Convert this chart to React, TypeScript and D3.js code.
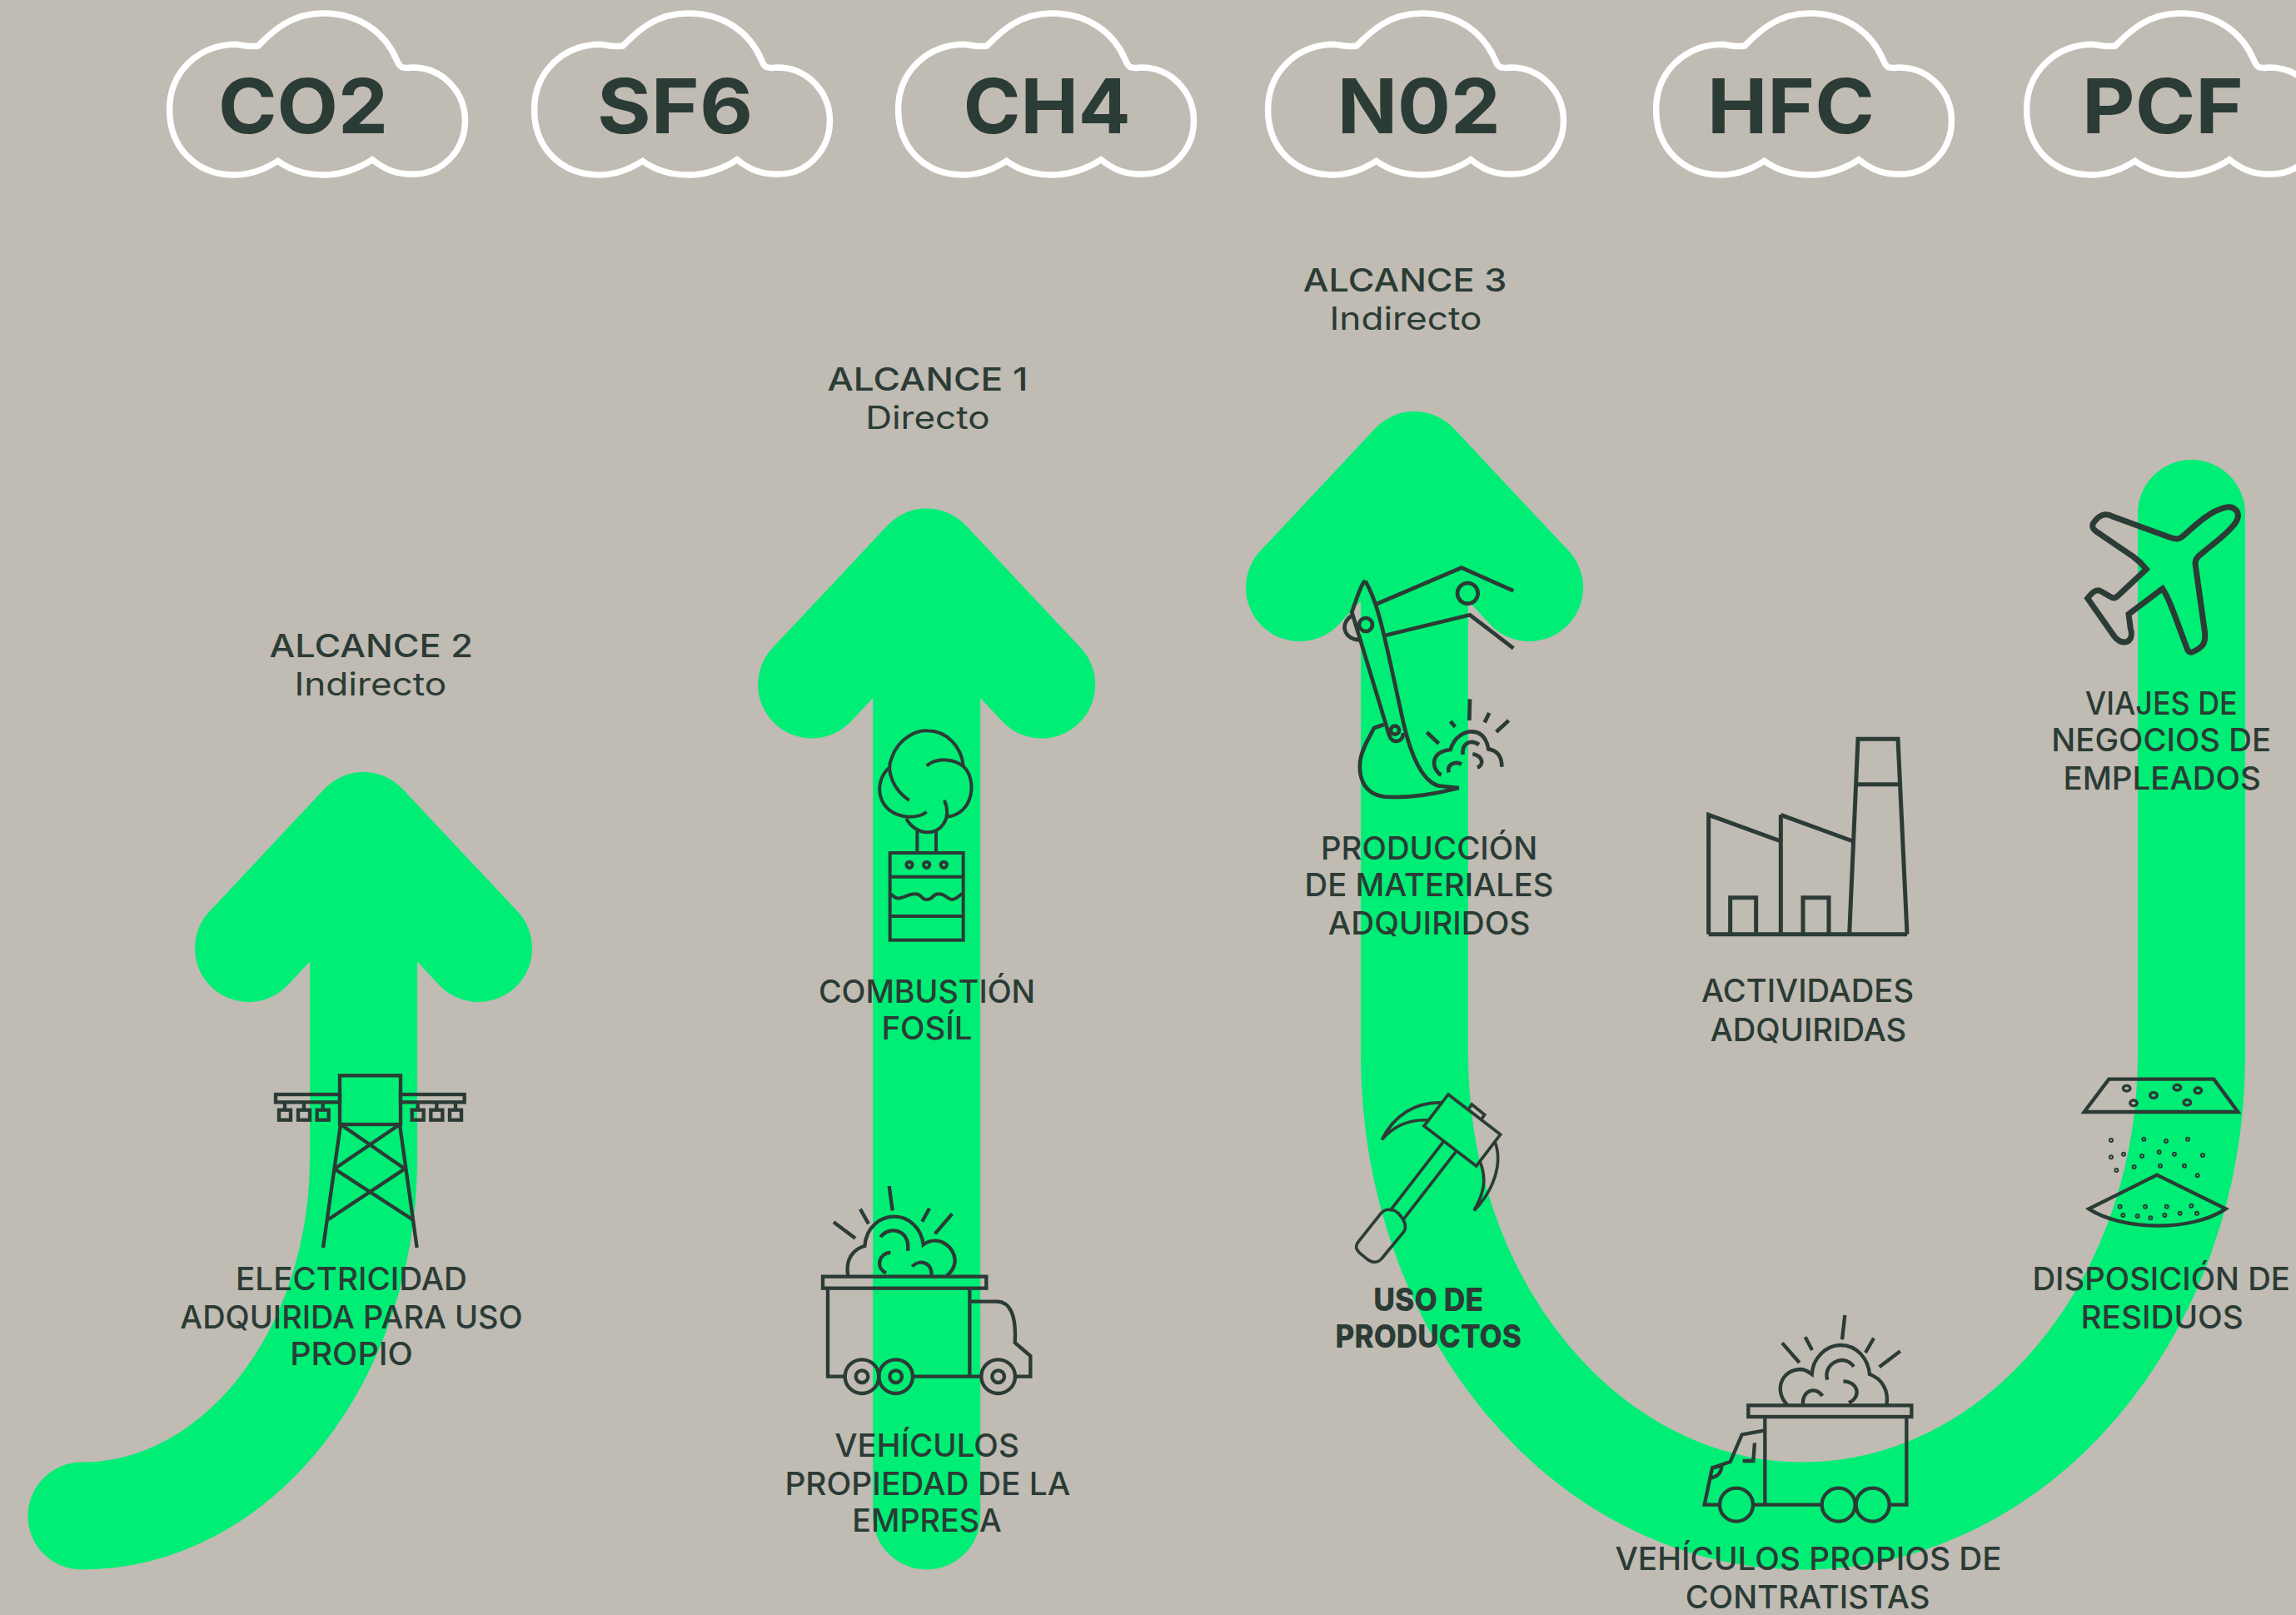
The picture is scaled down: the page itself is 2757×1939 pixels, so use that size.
import * as d3 from 'd3';

const [W, H] = [2757, 1939];
const INK = '#2b3b35';
const GREEN = '#00ee76';
const BG = '#c0bbb3';
const FONT = 'Inter, "Open Sans", sans-serif';

const gases = ['CO2', 'SF6', 'CH4', 'N02', 'HFC', 'PCF'];
const scopeTitles = ['ALCANCE 2', 'ALCANCE 1', 'ALCANCE 3'];
const scopeKinds = ['Indirecto', 'Directo', 'Indirecto'];
const sourceLabels = [
    ['ELECTRICIDAD', 'ADQUIRIDA PARA USO', 'PROPIO'],
    ['COMBUSTIÓN', 'FOSÍL'],
    ['VEHÍCULOS', 'PROPIEDAD DE LA', 'EMPRESA'],
    ['PRODUCCIÓN', 'DE MATERIALES', 'ADQUIRIDOS'],
    ['USO DE', 'PRODUCTOS'],
    ['ACTIVIDADES', 'ADQUIRIDAS'],
    ['VEHÍCULOS PROPIOS DE', 'CONTRATISTAS'],
    ['VIAJES DE', 'NEGOCIOS DE', 'EMPLEADOS'],
    ['DISPOSICIÓN DE', 'RESIDUOS'],
];

// layout, measured on the 1568px preview: [left, right, baseline] per line
const k = W / 1568;
const scopeBoxes = [
    [[184, 323, 449], [201, 305, 475]],
    [[565, 702, 267], [591, 676, 293]],
    [[890, 1029, 199], [908, 1012, 225]],
];
const sourceBoxes = [
    [[161, 319, 881], [123, 357, 907], [198, 282, 932]],
    [[559, 707, 685], [602, 664, 710]],
    [[570, 696, 995], [536, 731, 1021], [582, 684, 1046]],
    [[902, 1050, 587], [891, 1061, 612], [907, 1045, 638]],
    [[938, 1013, 895], [912, 1039, 920]],
    [[1162, 1307, 684], [1168, 1302, 711]],
    [[1103, 1367, 1072], [1151, 1318, 1098]],
    [[1424, 1528, 488], [1401, 1551, 513], [1409, 1544, 539]],
    [[1388, 1564, 881], [1421, 1532, 907]],
];
const gasWidths = [204, 187, 201, 196, 201, 194];
const cloudOffsets = [0, 438, 875, 1319, 1785, 2230];

const gasX = d3.scalePoint<string>().domain(gases).range([364, 2597]);

const KAPPA = 0.5523;
const SHAFT = 129;

function head(p: d3.Path, x: number, y: number) {
    p.moveTo(x - 138, y + 147);
    p.lineTo(x, y);
    p.lineTo(x + 138, y + 147);
}

function arrowLeft() {
    const p = d3.path();
    const [x0, y0, x1, y1] = [98, 1820, 436.5, 1390];
    head(p, x1, 991.5);
    p.moveTo(x0, y0);
    p.bezierCurveTo(x0 + (x1 - x0) * KAPPA, y0, x1, y1 + (y0 - y1) * KAPPA, x1, y1);
    p.lineTo(x1, 991.5);
    return p.toString();
}

function arrowMiddle() {
    const p = d3.path();
    head(p, 1112.7, 675);
    p.moveTo(1112.7, 1820);
    p.lineTo(1112.7, 675);
    return p.toString();
}

function arrowU() {
    const p = d3.path();
    const [xl, xb, xr, yt, yb] = [1698.5, 2165, 2631.5, 1266, 1820];
    head(p, xl, 558.5);
    p.moveTo(xl, 558.5);
    p.lineTo(xl, yt);
    p.bezierCurveTo(xl, yt + (yb - yt) * KAPPA, xb - (xb - xl) * KAPPA, yb, xb, yb);
    p.bezierCurveTo(xb + (xr - xb) * KAPPA, yb, xr, yt + (yb - yt) * KAPPA, xr, yt);
    p.lineTo(xr, 616.5);
    return p.toString();
}

const cloudPath = 'M43,395 C43,260 105,160 190,160 C210,165 225,170 237,165 C270,110 310,48 380,48 C460,48 515,120 540,215 C548,250 555,245 575,243 C640,243 690,330 690,435 C690,540 640,630 575,627 C535,628 510,605 487,575 C460,605 420,630 380,630 C340,630 305,610 280,580 C255,605 225,630 185,630 C100,630 43,530 43,395Z';

// icons are drawn at 3x around their own origin
function Icon({x, y, sw = 13, children}: any) {
    return (
        <g transform={`translate(${x},${y}) scale(${1 / 3})`} fill="none" stroke={INK} strokeWidth={sw}>
            {children}
        </g>
    );
}

const Wheel = ({cx, cy, r = 61, inner = 0}: any) => (
    <>
        <circle cx={cx} cy={cy} r={r} />
        {inner > 0 && <circle cx={cx} cy={cy} r={inner} />}
    </>
);

function Tower() {
    const boxes = [105, 174, 242, 584, 652, 720];
    return (
        <Icon x={300} y={1270}>
            <rect x={324} y={64} width={219} height={176} />
            <rect x={93} y={132} width={231} height={28} />
            <rect x={543} y={132} width={230} height={28} />
            {boxes.map(b => (
                <g key={b}>
                    <rect x={b} y={188} width={42} height={36} />
                    <path d={`M${b + 21},160V188`} />
                </g>
            ))}
            <path d="M327,240L264,684M540,240L602,684M327,240L558,400M540,240L305,400M305,400L585,582M558,400L283,582" />
        </Icon>
    );
}

function Chimney() {
    return (
        <Icon x={1030} y={860} sw={12}>
            <path d="M185,303C130,265 100,200 122,150C150,70 220,50 250,52C320,52 375,110 380,180" />
            <path d="M248,178C290,145 350,155 380,180C430,225 420,350 323,362" />
            <path d="M113,185C55,235 65,355 185,362C210,362 235,355 248,344" />
            <path d="M175,368C190,400 225,418 250,418C300,418 340,370 312,302" />
            <path d="M214,412V490M282,412V490" />
            <rect x={116} y={492} width={264} height={314} />
            <path d="M116,578H380M116,720H380" />
            {[186, 248, 310].map(c => <circle key={c} cx={c} cy={535} r={11} />)}
            <path d="M120,640C150,675 170,640 205,640C235,640 225,660 248,660C275,660 265,640 292,640C320,640 320,660 340,660C355,660 365,645 378,638" />
        </Icon>
    );
}

function TruckOne() {
    return (
        <Icon x={960} y={1400}>
            <rect x={84} y={398} width={589} height={42} />
            <path d="M102,440V758H165M412,758H655M613,440V758M613,488H710C760,488 782,540 776,636L832,684V758H780" />
            <Wheel cx={225} cy={758} inner={22} />
            <Wheel cx={347} cy={758} inner={22} />
            <Wheel cx={716} cy={758} inner={22} />
            <path d="M175,395C165,340 190,300 235,288C240,220 290,182 342,182C395,182 440,225 446,283C500,245 562,290 560,345C558,365 545,385 530,395" />
            <path d="M292,256C320,215 400,225 390,305M328,312C290,310 270,365 312,385M406,362C430,335 480,345 475,395" />
            <path d="M335,160L323,72M249,208L219,155M201,260L123,202M442,200L468,152M488,244L550,172" />
        </Icon>
    );
}

function Excavator() {
    return (
        <Icon x={1590} y={670} sw={14}>
            <path d="M148,82C200,170 220,300 285,590C310,700 350,800 410,820L485,828C400,850 300,865 220,860C130,850 125,770 130,730C135,690 160,650 180,612L215,600" />
            <path d="M148,82C135,90 115,150 100,195L235,640C245,670 285,665 285,630" />
            <path d="M105,205C60,225 60,290 128,295" />
            <circle cx={150} cy={240} r={24} />
            <circle cx={255} cy={620} r={15} />
            <path d="M190,165L495,35L682,118M222,278L525,205L682,325" />
            <circle cx={517} cy={127} r={37} />
            <path d="M370,628L413,668M455,588L472,608M525,508L523,585M595,558L578,592M665,585L620,626" />
            <path d="M422,782C390,765 375,700 455,690C470,640 510,625 530,625C565,625 585,650 592,688C630,695 640,720 640,752" />
            <path d="M500,708C495,670 525,650 558,672M535,706C575,715 575,745 552,755M450,772C440,745 470,730 495,743" />
        </Icon>
    );
}

function Hammer() {
    return (
        <Icon x={1620} y={1300} sw={11}>
            <path d="M357,42L545,186L458,300L270,156Z" />
            <path d="M432,92L442,78L488,115L478,130" />
            <path d="M340,212L150,458M385,248L197,490" />
            <path d="M150,458C170,455 200,490 202,515C205,530 195,540 190,545L120,630C105,650 85,650 65,635L40,615C25,600 20,590 35,570L115,470C125,458 140,455 150,458Z" />
            <path d="M338,72C240,65 160,120 118,205C165,150 220,130 290,135" />
            <path d="M525,212C555,290 520,390 450,460C490,390 495,340 470,280" />
        </Icon>
    );
}

function Factory() {
    return (
        <Icon x={2030} y={870} sw={15}>
            <path d="M65,755V325L325,420V755M325,325L585,420M65,755H780" />
            <path d="M325,420V325M572,755L603,52H747L780,755M600,215H750" />
            <path d="M143,755V623H236V755M405,755V623H498V755" />
        </Icon>
    );
}

function TruckTwo() {
    return (
        <Icon x={2030} y={1570}>
            <rect x={208} y={352} width={588} height={41} />
            <path d="M268,393V710M778,393V710H720M230,710H470" />
            <Wheel cx={165} cy={710} r={60} />
            <Wheel cx={533} cy={710} r={60} />
            <Wheel cx={656} cy={710} r={60} />
            <path d="M268,442L185,457L143,555L78,577L50,710H102" />
            <path d="M231,487L226,552H188M78,577L112,570C112,595 95,610 70,613" />
            <path d="M348,350C300,300 325,225 395,222C415,222 425,232 437,240C440,180 490,135 540,135C600,135 640,185 645,240C690,255 715,300 706,350" />
            <path d="M493,260C475,205 550,160 588,212M550,265C600,265 620,320 570,342M405,350C400,300 450,280 475,318" />
            <path d="M546,115L556,27M438,153L413,106M392,198L330,127M630,162L660,110M680,214L755,157" />
        </Icon>
    );
}

function Plane() {
    return (
        <Icon x={2480} y={590} sw={21}>
            <path d="M575,58C525,70 480,110 425,160C410,175 395,172 375,165L170,90C145,75 120,85 100,115C95,130 100,135 115,147L245,235C265,250 280,265 292,280L185,380C178,385 170,385 160,378L125,358C110,350 95,365 80,385L175,520C190,540 205,548 225,540C240,530 240,510 235,495L228,442L350,350C370,380 385,420 438,565C445,585 455,582 475,570C500,555 505,540 503,510L468,260C468,245 475,235 490,225C530,190 590,150 615,110C635,75 610,50 575,58Z" />
        </Icon>
    );
}

function Waste() {
    const big = [[221, 80], [318, 105], [403, 77], [478, 88], [246, 133], [439, 131]];
    const small = [
        [165, 267], [283, 263], [363, 270], [441, 263], [165, 328], [210, 317], [276, 324], [338, 310], [393, 317],
        [495, 321], [184, 375], [248, 363], [342, 359], [429, 359], [476, 394], [197, 506], [288, 506], [365, 506],
        [454, 503], [208, 537], [260, 540], [307, 547], [358, 537], [413, 530], [474, 530],
    ];
    return (
        <Icon x={2480} y={1280}>
            <path d="M157,47H535L622,165H68Z" />
            {big.map(([cx, cy]) => <ellipse key={`${cx}-${cy}`} cx={cx} cy={cy} rx={13} ry={10} strokeWidth={10} />)}
            {small.map(([cx, cy]) => <circle key={`${cx}-${cy}`} cx={cx} cy={cy} r={6} strokeWidth={6} />)}
            <path d="M330,392L85,514C200,590 450,600 578,514Z" />
        </Icon>
    );
}

function Line({text, box, size = 38, weight = 500}: any) {
    const [x0, x1, y] = box;
    return (
        <text x={((x0 + x1) / 2) * k} y={y * k} textAnchor="middle" fontFamily={FONT} fontSize={size} fontWeight={weight}
            fill={INK} textLength={(x1 - x0) * k} lengthAdjust="spacingAndGlyphs">
            {text}
        </text>
    );
}

export default function App() {
    return (
        <svg width={W} height={H} style={{position: 'absolute', left: 0, top: 0, display: 'block', background: BG}}>
            <g fill="none" stroke={GREEN} strokeWidth={SHAFT} strokeLinecap="round" strokeLinejoin="round">
                <path d={arrowLeft()} />
                <path d={arrowMiddle()} />
                <path d={arrowU()} />
            </g>

            <Tower />
            <Chimney />
            <TruckOne />
            <Excavator />
            <Hammer />
            <Factory />
            <TruckTwo />
            <Plane />
            <Waste />

            {cloudOffsets.map(dx => (
                <path key={dx} d={cloudPath} fill="none" stroke="#fff" strokeWidth={7.5} vectorEffect="non-scaling-stroke"
                    transform={`translate(${180 + dx},0) scale(${860 / 1568},${1 / 3})`} />
            ))}
            {gases.map((g, i) => (
                <text key={g} x={gasX(g)} y={160} textAnchor="middle" fontFamily={FONT} fontSize={91} fontWeight={700}
                    fill={INK} textLength={gasWidths[i]} lengthAdjust="spacingAndGlyphs">
                    {g}
                </text>
            ))}

            {scopeTitles.map((t, i) => (
                <g key={i}>
                    <Line text={t} box={scopeBoxes[i][0]} />
                    <Line text={scopeKinds[i]} box={scopeBoxes[i][1]} weight={400} />
                </g>
            ))}
            {sourceLabels.map((lines, i) => lines.map((t, j) => (
                <Line key={`${i}-${j}`} text={t} box={sourceBoxes[i][j]} weight={t === 'USO DE' || t === 'PRODUCTOS' ? 800 : 500} />
            )))}
        </svg>
    );
}
